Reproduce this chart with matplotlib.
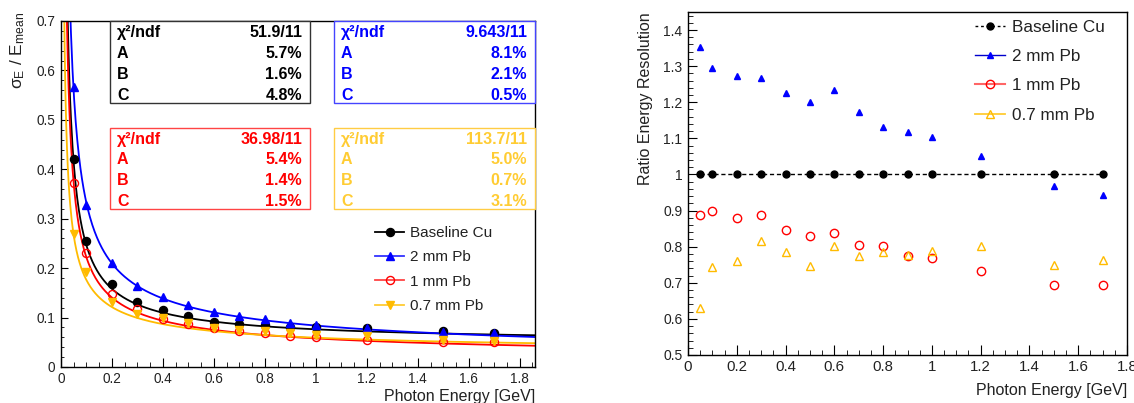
import matplotlib
matplotlib.use("Agg")  # headless
import matplotlib.pyplot as plt
from matplotlib.lines import Line2D
from matplotlib.patches import Rectangle
from matplotlib.ticker import MultipleLocator
import numpy as np

plt.rcParams["font.family"] = ["Liberation Sans", "DejaVu Sans"]
plt.rcParams["mathtext.fontset"] = "custom"
plt.rcParams["mathtext.rm"] = "Liberation Sans"
plt.rcParams["mathtext.it"] = "Liberation Sans:italic"
plt.rcParams["mathtext.bf"] = "Liberation Sans:bold"

W, H = 1134, 403

# ─── data ────────────────────────────────────────────────────────────────────
energy = [0.05, 0.1, 0.2, 0.3, 0.4, 0.5, 0.6, 0.7, 0.8, 0.9, 1.0, 1.2, 1.5, 1.7]

# sigma_E / E_mean (left)
res_cu   = [0.420, 0.255, 0.167, 0.131, 0.115, 0.104, 0.092, 0.088, 0.085, 0.080, 0.080, 0.078, 0.072, 0.069]
res_pb2  = [0.566, 0.327, 0.211, 0.164, 0.141, 0.125, 0.112, 0.104, 0.097, 0.090, 0.085, 0.079, 0.071, 0.068]
res_pb1  = [0.373, 0.230, 0.148, 0.117, 0.098, 0.088, 0.078, 0.073, 0.068, 0.063, 0.061, 0.054, 0.050, 0.050]
res_pb07 = [0.269, 0.193, 0.131, 0.107, 0.099, 0.090, 0.079, 0.075, 0.072, 0.068, 0.065, 0.063, 0.055, 0.053]

# ratio to baseline (right)
ratio_cu   = [1, 1, 1, 1, 1, 1, 1, 1, 1, 1, 1, 1, 1, 1]
ratio_pb2  = [1.354, 1.296, 1.273, 1.268, 1.227, 1.200, 1.233, 1.173, 1.131, 1.117, 1.103, 1.051, 0.968, 0.942]
ratio_pb1  = [0.889, 0.900, 0.880, 0.888, 0.846, 0.830, 0.838, 0.806, 0.803, 0.775, 0.769, 0.734, 0.693, 0.694]
ratio_pb07 = [0.631, 0.744, 0.760, 0.817, 0.784, 0.747, 0.803, 0.774, 0.785, 0.776, 0.787, 0.802, 0.749, 0.763]

labels = ["Baseline Cu", "2 mm Pb", "1 mm Pb", "0.7 mm Pb"]

# fit results: sigma/E = sqrt(A^2/E + B^2/E^2 + C^2), in %
fit_chi2 = ["51.9/11", "9.643/11", "36.98/11", "113.7/11"]
fit_A = [5.7, 8.1, 5.4, 5.0]
fit_B = [1.6, 2.1, 1.4, 0.7]
fit_C = [4.8, 0.5, 1.5, 3.1]

COL = ["black", "#0000ff", "#ff0000", "#ffbb00"]
TXT = ["black", "#0000ff", "#ff0000", "#ffcc33"]
EDGE = ["#333333", "#4444ff", "#ff4444", "#ffcc44"]
LEG = ["black", "#3333ff", "#ff4444", "#ffcc33"]


def fx(x):
    return x / W


def fy(y):
    return 1 - y / H


def style_axes(ax, xlen, ylen, xsize, ysize):
    ax.xaxis.set_major_locator(MultipleLocator(0.2))
    ax.xaxis.set_minor_locator(MultipleLocator(0.05))
    ax.yaxis.set_major_locator(MultipleLocator(0.1))
    ax.yaxis.set_minor_locator(MultipleLocator(0.02))
    ax.tick_params(which="both", direction="in", top=False, right=False,
                   colors="black", labelcolor="#222222")
    ax.tick_params(axis="x", which="major", length=xlen, pad=3.5, labelsize=xsize)
    ax.tick_params(axis="x", which="minor", length=xlen / 2)
    ax.tick_params(axis="y", which="major", length=ylen, pad=4, labelsize=ysize)
    ax.tick_params(axis="y", which="minor", length=ylen / 2)
    ax.xaxis.set_major_formatter(plt.FuncFormatter(lambda v, p: f"{v:g}"))
    ax.yaxis.set_major_formatter(plt.FuncFormatter(lambda v, p: f"{v:g}"))
    for s in ax.spines.values():
        s.set_linewidth(1.0)


fig = plt.figure(figsize=(W / 100, H / 100), dpi=100)

# ─── left: resolution ───────────────────────────────────────────────────────
axL = fig.add_axes([fx(61), fy(367), fx(535 - 61), (367 - 21) / H])
axL.set_xlim(0, 1.86)
axL.set_ylim(0, 0.7)

e_fit = np.linspace(0.005, 1.86, 600)
markersL = ["o", "^", "o", "v"]
fillL = [True, True, False, True]
dataL = [res_cu, res_pb2, res_pb1, res_pb07]
for i in range(4):
    a, b, c = fit_A[i] / 100, fit_B[i] / 100, fit_C[i] / 100
    curve = np.sqrt(a**2 / e_fit + b**2 / e_fit**2 + c**2)
    axL.plot(e_fit, curve, color=COL[i], lw=1.3, zorder=2)
    axL.plot(energy, dataL[i], ls="none", marker=markersL[i], ms=5.8,
             color=COL[i], mfc=COL[i] if fillL[i] else "none", mew=1.0, zorder=3)

style_axes(axL, 6.5, 5, 9.8, 9.8)

fig.text(fx(18), fy(12), r"σ$_{\rm E}$ / E$_{\rm mean}$", rotation=90,
         ha="center", va="top", fontsize=12.5, color="#222222")
fig.text(fx(535), fy(396), "Photon Energy [GeV]", ha="right", va="center",
         fontsize=11.5, color="#222222")

# stat boxes
boxes = [(110, 310, 21, 103), (334, 535, 21, 103), (110, 310, 128, 209), (334, 535, 128, 209)]
for i, (x0, x1, y0, y1) in enumerate(boxes):
    fig.add_artist(Rectangle((fx(x0), fy(y1)), fx(x1 - x0), (y1 - y0) / H,
                             transform=fig.transFigure, facecolor="white",
                             edgecolor=EDGE[i], lw=1.0, zorder=5))
    rows = [("χ²/ndf", fit_chi2[i]), ("A", f"{fit_A[i]:.1f}%"),
            ("B", f"{fit_B[i]:.1f}%"), ("C", f"{fit_C[i]:.1f}%")]
    step = (y1 - y0) / 4
    for r, (k, v) in enumerate(rows):
        yc = y0 + step * (r + 0.5) + 1 + 0.5 * r
        fig.text(fx(x0 + 7), fy(yc), k, ha="left", va="center", fontsize=11.5,
                 fontweight="bold", color=TXT[i], zorder=6)
        fig.text(fx(x1 - 8), fy(yc), v, ha="right", va="center", fontsize=11.5,
                 fontweight="bold", color=TXT[i], zorder=6)

handlesL = [Line2D([], [], color=LEG[i], lw=1.3, marker=markersL[i], ms=5.8,
                   mfc=COL[i] if fillL[i] else "none", mec=COL[i])
            for i in range(4)]
axL.legend(handlesL, labels, loc="upper left", bbox_to_anchor=(fx(375), fy(226)),
           bbox_transform=fig.transFigure, frameon=False, fontsize=11,
           handlelength=1.9, handletextpad=0.4, labelspacing=0.68,
           borderpad=0, borderaxespad=0, labelcolor="#222222")

# ─── right: ratio ───────────────────────────────────────────────────────────
axR = fig.add_axes([fx(688), fy(355), fx(1127 - 688), (355 - 12) / H])
axR.set_xlim(0, 1.8)
axR.set_ylim(0.5, 1.45)

axR.plot(energy, ratio_cu, color="black", lw=1.0, dashes=(3, 2), marker="o", ms=5, zorder=3)
axR.plot(energy, ratio_pb2, ls="none", marker="^", ms=5, color=COL[1], zorder=3)
axR.plot(energy, ratio_pb1, ls="none", marker="o", ms=6, color=COL[2], mfc="none", mew=1.0, zorder=3)
axR.plot(energy, ratio_pb07, ls="none", marker="^", ms=6, color=COL[3], mfc="none", mew=1.0, zorder=3)

style_axes(axR, 7, 6.5, 10.8, 10)

fig.text(fx(645), fy(12), "Ratio Energy Resolution", rotation=90,
         ha="center", va="top", fontsize=11.5, color="#222222")
fig.text(fx(1127), fy(391), "Photon Energy [GeV]", ha="right", va="center",
         fontsize=11.5, color="#222222")

handlesR = [
    Line2D([], [], color="black", lw=1.0, dashes=(2, 2), marker="o", ms=5),
    Line2D([], [], color="#0000cc", lw=1.0, marker="^", ms=5, mfc=COL[1], mec=COL[1]),
    Line2D([], [], color="#ff6666", lw=1.5, marker="o", ms=6, mfc="none", mec=COL[2]),
    Line2D([], [], color="#ffcc33", lw=1.3, marker="^", ms=6, mfc="none", mec=COL[3]),
]
axR.legend(handlesR, labels, loc="upper left", bbox_to_anchor=(fx(975), fy(20)),
           bbox_transform=fig.transFigure, frameon=False, fontsize=12.3,
           handlelength=1.75, handletextpad=0.4, labelspacing=0.83,
           borderpad=0, borderaxespad=0, labelcolor="#222222")

fig.savefig("out.png", dpi=100)
